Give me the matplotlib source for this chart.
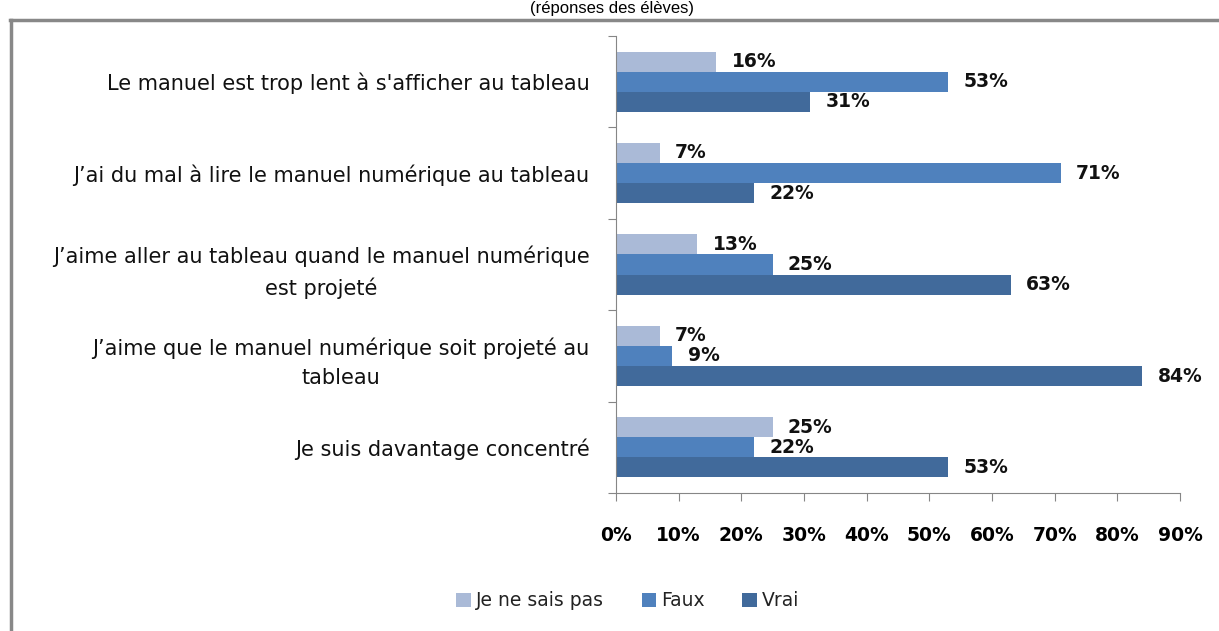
import numpy as np
import matplotlib.pyplot as plt
from matplotlib.lines import Line2D
from matplotlib.ticker import FuncFormatter

categories = [
    "Le manuel est trop lent à s'afficher au tableau",
    "J’ai du mal à lire le manuel numérique au tableau",
    "J’aime aller au tableau quand le manuel numérique\nest projeté",
    "J’aime que le manuel numérique soit projeté au\ntableau",
    "Je suis davantage concentré",
]
series_names = ["Je ne sais pas", "Faux", "Vrai"]
ne_sais_pas = [16, 7, 13, 7, 25]
faux = [53, 71, 25, 9, 22]
vrai = [31, 22, 63, 84, 53]
colors = ["#AABAD7", "#4F81BD", "#416A9B"]

plt.rcParams['font.family'] = ['DejaVu Sans']

fig = plt.figure(figsize=(12.19, 6.31), dpi=100)
ax = fig.add_axes([616 / 1219, 1 - 493 / 631, 564 / 1219, 457 / 631])

y = np.arange(len(categories))
h = 0.22
for i, (name, vals) in enumerate(zip(series_names, [ne_sais_pas, faux, vrai])):
    pos = y + (i - 1) * h
    ax.barh(pos, vals, height=h, color=colors[i], label=name)
    for p, v in zip(pos, vals):
        ax.annotate(f"{v}%", (v, p), xytext=(11, 0), textcoords='offset points',
                    va='center', ha='left', fontsize=13.5, fontweight='bold', color='#111111')

ax.set_xlim(0, 90)
ax.set_ylim(len(categories) - 0.5, -0.5)
ax.set_xticks(np.arange(0, 91, 10))
ax.xaxis.set_major_formatter(FuncFormatter(lambda v, _: f"{v:.0f}%"))
ax.set_yticks(np.arange(-0.5, len(categories), 1))
ax.set_yticklabels([])
ax.set_yticks(y, minor=True)
ax.set_yticklabels(categories, minor=True, fontsize=15, color='#111111')
for t in ax.get_yticklabels(minor=True):
    t.set_multialignment('center')
    t.set_linespacing(1.6)
ax.tick_params(axis='y', which='minor', length=0, pad=19)
ax.tick_params(axis='y', which='major', length=6, color='#868686', direction='out')
ax.tick_params(axis='x', length=6, color='#868686', direction='out', pad=18,
               labelsize=13.5)
for t in ax.get_xticklabels():
    t.set_fontweight('bold')
for s in ['top', 'right']:
    ax.spines[s].set_visible(False)
for s in ['left', 'bottom']:
    ax.spines[s].set_color('#868686')

fig.legend(loc='center', bbox_to_anchor=(628 / 1219, 1 - 601 / 631), ncol=3,
           frameon=False, fontsize=13.5, handlelength=0.75, handleheight=0.75,
           handletextpad=0.3, columnspacing=2.0, labelcolor='#222222')

fig.text(612 / 1219, 1 - 1 / 631, "(réponses des élèves)", ha='center', va='top',
         fontsize=12, family='Liberation Sans')

fig.add_artist(Line2D([10.5 / 1219, 10.5 / 1219], [0, 1 - 20 / 631], color='#888888', lw=2.5))
fig.add_artist(Line2D([10 / 1219, 1], [1 - 20 / 631, 1 - 20 / 631], color='#888888', lw=2.5))

fig.savefig('out.png', dpi=100)
